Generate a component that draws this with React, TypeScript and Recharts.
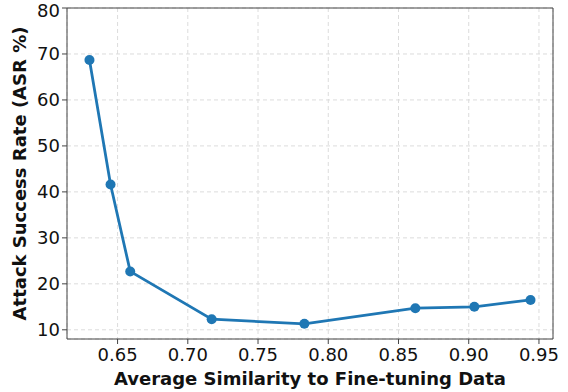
import React from "react";
import {
  LineChart,
  Line,
  XAxis,
  YAxis,
  CartesianGrid,
  ReferenceLine,
} from "recharts";

const similarity = [0.63, 0.645, 0.659, 0.717, 0.783, 0.862, 0.904, 0.944];
const asr = [68.7, 41.6, 22.7, 12.3, 11.3, 14.7, 15.0, 16.5];
const xTicks = [0.65, 0.7, 0.75, 0.8, 0.85, 0.9, 0.95];
const yTicks = [10, 20, 30, 40, 50, 60, 70, 80];

const data = similarity.map((s, i) => ({ sim: s, asr: asr[i] }));

const FONT = "'DejaVu Sans', sans-serif";
const AXIS = "#444";

export default function App() {
  return (
    <div style={{ position: "absolute", left: 0, top: 0, background: "#fff" }}>
      <LineChart
        width={568}
        height={392}
        data={data}
        margin={{ top: 8, right: 15, bottom: 0, left: 0 }}
      >
        <CartesianGrid stroke="#dcdcdc" strokeDasharray="4 3" />
        <XAxis
          dataKey="sim"
          type="number"
          domain={[0.614, 0.96]}
          ticks={xTicks}
          tickFormatter={(v: number) => v.toFixed(2)}
          height={53}
          stroke={AXIS}
          tickSize={5}
          tick={{ fill: "#111", fontSize: 18, fontFamily: FONT, dy: 2 }}
          allowDataOverflow
          label={{
            value: "Average Similarity to Fine-tuning Data",
            position: "insideBottom",
            offset: 7,
            style: { fontSize: 18, fontWeight: "bold", fill: "#111", fontFamily: FONT },
          }}
        />
        <YAxis
          type="number"
          domain={[8, 80]}
          ticks={yTicks}
          width={67}
          stroke={AXIS}
          tickSize={5}
          tick={{ fill: "#111", fontSize: 18, fontFamily: FONT }}
          allowDataOverflow
          label={{
            value: "Attack Success Rate (ASR %)",
            angle: -90,
            position: "insideLeft",
            offset: 20,
            style: {
              textAnchor: "middle",
              fontSize: 18,
              fontWeight: "bold",
              fill: "#111",
              fontFamily: FONT,
            },
          }}
        />
        <ReferenceLine y={80} stroke={AXIS} />
        <ReferenceLine x={0.96} stroke={AXIS} />
        <Line
          dataKey="asr"
          type="linear"
          stroke="#1f77b4"
          strokeWidth={2.8}
          dot={{ r: 5, fill: "#1f77b4", stroke: "#1f77b4", strokeWidth: 0 }}
          isAnimationActive={false}
        />
      </LineChart>
    </div>
  );
}
